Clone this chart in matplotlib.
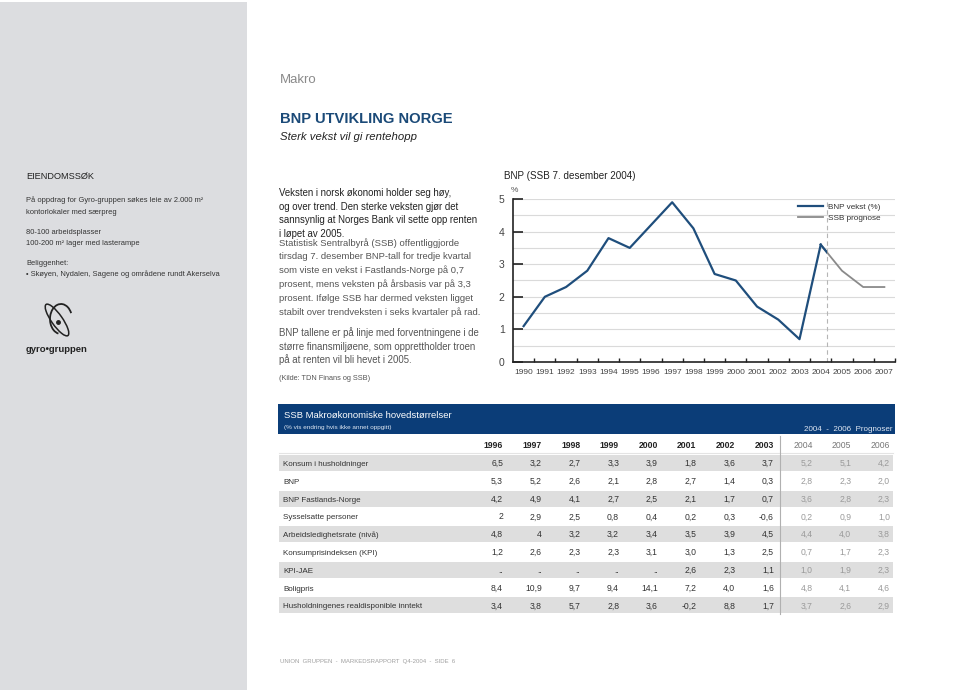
import matplotlib
matplotlib.use("Agg")
import matplotlib.pyplot as plt
from matplotlib.patches import Rectangle, Ellipse, Arc

plt.rcParams['font.family'] = ['Liberation Sans', 'DejaVu Sans']

# --- chart data (BNP, SSB 7. desember 2004) ---
years = [1990, 1991, 1992, 1993, 1994, 1995, 1996, 1997, 1998, 1999,
         2000, 2001, 2002, 2003, 2004]
bnp_vekst = [1.1, 2.0, 2.3, 2.8, 3.8, 3.5, 4.2, 4.9, 4.1, 2.7,
             2.5, 1.7, 1.3, 0.7, 3.6]
prog_years = [2004, 2005, 2006, 2007]
ssb_prognose = [3.6, 2.8, 2.3, 2.3]
prog_start = 2004.3

# --- table data ---
tab_years = ["1996", "1997", "1998", "1999", "2000", "2001", "2002", "2003",
             "2004", "2005", "2006"]
row_labels = ["Konsum i husholdninger", "BNP", "BNP Fastlands-Norge",
              "Sysselsatte personer", "Arbeidsledighetsrate (nivå)",
              "Konsumprisindeksen (KPI)", "KPI-JAE", "Boligpris",
              "Husholdningenes realdisponible inntekt"]
konsum = ["6,5", "3,2", "2,7", "3,3", "3,9", "1,8", "3,6", "3,7", "5,2", "5,1", "4,2"]
bnp = ["5,3", "5,2", "2,6", "2,1", "2,8", "2,7", "1,4", "0,3", "2,8", "2,3", "2,0"]
bnp_fastland = ["4,2", "4,9", "4,1", "2,7", "2,5", "2,1", "1,7", "0,7", "3,6", "2,8", "2,3"]
sysselsatte = ["2", "2,9", "2,5", "0,8", "0,4", "0,2", "0,3", "-0,6", "0,2", "0,9", "1,0"]
ledighet = ["4,8", "4", "3,2", "3,2", "3,4", "3,5", "3,9", "4,5", "4,4", "4,0", "3,8"]
kpi = ["1,2", "2,6", "2,3", "2,3", "3,1", "3,0", "1,3", "2,5", "0,7", "1,7", "2,3"]
kpi_jae = ["..", "..", "..", "..", "..", "2,6", "2,3", "1,1", "1,0", "1,9", "2,3"]
boligpris = ["8,4", "10,9", "9,7", "9,4", "14,1", "7,2", "4,0", "1,6", "4,8", "4,1", "4,6"]
inntekt = ["3,4", "3,8", "5,7", "2,8", "3,6", "-0,2", "8,8", "1,7", "3,7", "2,6", "2,9"]
rows = [konsum, bnp, bnp_fastland, sysselsatte, ledighet, kpi, kpi_jae, boligpris, inntekt]

W, H = 960, 691
fig = plt.figure(figsize=(9.6, 6.91), dpi=100)
fig.patch.set_facecolor('white')

# page canvas in pixel coords (y down)
page = fig.add_axes([0, 0, 1, 1])
page.set_xlim(0, W)
page.set_ylim(H, 0)
page.axis('off')

blue = '#0b3d78'
dark = '#222222'
mid = '#555555'

# left sidebar
page.add_patch(Rectangle((0, 2), 247, 688, color='#dcdde0', lw=0))
page.text(26, 176, "EIENDOMSSØK", fontsize=6.6, color=dark, va='center')
side = [("På oppdrag for Gyro-gruppen søkes leie av 2.000 m²", 200),
        ("kontorlokaler med særpreg", 212),
        ("80-100 arbeidsplasser", 232),
        ("100-200 m² lager med lasterampe", 243),
        ("Beliggenhet:", 263),
        ("• Skøyen, Nydalen, Sagene og områdene rundt Akerselva", 274)]
for s, y in side:
    page.text(26, y, s, fontsize=5.4, color='#333333', va='center')

# gyro logo (rough)
page.add_patch(Ellipse((57, 320), 38, 11, angle=55, fill=False, ec='#222222', lw=1.1))
page.add_patch(Arc((61, 319), 22, 30, angle=0, theta1=100, theta2=330, ec='#222222', lw=1.3))
page.plot([58], [322], 'o', color='#222222', ms=2.5)
page.text(26, 349, "gyro•gruppen", fontsize=6.8, fontweight='bold', color='#222222', va='center')

# headings
page.text(280, 80, "Makro", fontsize=9.5, color='#8a8a8a', va='center')
page.text(280, 119, "BNP UTVIKLING NORGE", fontsize=10.6, fontweight='bold', color='#1b4a78',
          va='center')
page.text(280, 137, "Sterk vekst vil gi rentehopp", fontsize=8.2, style='italic', color=dark,
          va='center')

para1 = ["Veksten i norsk økonomi holder seg høy,",
         "og over trend. Den sterke veksten gjør det",
         "sannsynlig at Norges Bank vil sette opp renten",
         "i løpet av 2005."]
para2 = ["Statistisk Sentralbyrå (SSB) offentliggjorde",
         "tirsdag 7. desember BNP-tall for tredje kvartal",
         "som viste en vekst i Fastlands-Norge på 0,7",
         "prosent, mens veksten på årsbasis var på 3,3",
         "prosent. Ifølge SSB har dermed veksten ligget",
         "stabilt over trendveksten i seks kvartaler på rad."]
para3 = ["BNP tallene er på linje med forventningene i de",
         "større finansmiljøene, som opprettholder troen",
         "på at renten vil bli hevet i 2005."]
for i, s in enumerate(para1):
    page.text(279, 192 + i * 13.5, s, fontsize=6.9, color=dark, va='center_baseline')
for i, s in enumerate(para2):
    page.text(279, 242 + i * 13.8, s, fontsize=6.8, color=mid, va='center_baseline')
for i, s in enumerate(para3):
    page.text(279, 332 + i * 13.5, s, fontsize=6.9, color=mid, va='center_baseline')
page.text(279, 377, "(Kilde: TDN Finans og SSB)", fontsize=5.3, color=mid, va='center_baseline')

# --- table ---
page.add_patch(Rectangle((278, 404), 617, 30, color=blue, lw=0))
page.text(284, 414, "SSB Makroøkonomiske hovedstørrelser", fontsize=6.8, color='white',
          va='center_baseline')
page.text(284, 427, "(% vis endring hvis ikke annet oppgitt)", fontsize=4.6, color='#dde6f2',
          va='center_baseline')
page.text(892, 428, "2004  -  2006  Prognoser", fontsize=5.8, color='#dde6f2',
          va='center_baseline', ha='right')

col_right = [503 + 38.7 * k for k in range(len(tab_years))]
for k, yr in enumerate(tab_years):
    fc = k >= 8
    page.text(col_right[k], 448, yr, fontsize=6.2, ha='right', va='baseline',
              fontweight='normal' if fc else 'bold', color='#777777' if fc else dark)
page.plot([279, 893], [453, 453], color='#e4e4e4', lw=0.8)

for r, (lab, vals) in enumerate(zip(row_labels, rows)):
    y = 463 + r * 17.8
    if r % 2 == 0:
        page.add_patch(Rectangle((279, y - 8), 614, 16, color='#dedede', lw=0))
    page.text(283, y + 3, lab, fontsize=5.8, color='#333333', va='baseline')
    for k, v in enumerate(vals):
        page.text(col_right[k], y + 3, v, fontsize=6.2, ha='right', va='baseline',
                  color='#9a9a9a' if k >= 8 else '#333333')
page.plot([780, 780], [436, 614], color='#b0b0b0', lw=0.8)

page.text(280, 662, "UNION  GRUPPEN  -  MARKEDSRAPPORT  Q4-2004  -  SIDE  6", fontsize=4.3,
          color='#a0a0a0', va='center')

# --- chart ---
left, right, top, bottom = 513, 895, 199, 362
ax = fig.add_axes([left / W, 1 - bottom / H, (right - left) / W, (bottom - top) / H])
ax.set_facecolor('none')
ax.set_xlim(1989.5, 2007.5)
ax.set_ylim(0, 5)
for y in [0.5 * i for i in range(1, 11)]:
    ax.axhline(y, color='#dadada', lw=0.8, zorder=0)
ax.axvline(prog_start, color='#b5b5b5', lw=0.8, dashes=(4, 3), zorder=1)

ax.plot(prog_years, ssb_prognose, color='#8a8a8a', lw=1.3, label='SSB prognose', zorder=2)
ax.plot(years, bnp_vekst, color='#1f4e7c', lw=1.6, label='BNP vekst (%)', zorder=3)
seg, = ax.plot(prog_years[:2], ssb_prognose[:2], color='#1f4e7c', lw=1.6, zorder=3)
clip = Rectangle((1989.5, -1), prog_start - 1989.5, 10, transform=ax.transData)
seg.set_clip_path(clip)

for s in ['top', 'right']:
    ax.spines[s].set_visible(False)
for s in ['left', 'bottom']:
    ax.spines[s].set_color('#222222')
    ax.spines[s].set_linewidth(1.2)

ax.set_yticks(range(6))
ax.tick_params(axis='y', direction='in', length=7, width=1.2, color='#222222',
               labelsize=7.5, labelcolor='#444444', pad=6)
ax.set_xticks(years + prog_years[1:])
ax.set_xticks([y + 0.5 for y in years + prog_years[1:]], minor=True)
ax.tick_params(axis='x', which='major', length=0, labelsize=6.0, labelcolor='#444444', pad=5)
ax.tick_params(axis='x', which='minor', direction='in', length=3, width=1, color='#222222')

handles, labels = ax.get_legend_handles_labels()
ax.legend(handles[::-1], labels[::-1], loc='upper left', bbox_to_anchor=(798 / W, 1 - 203 / H),
          bbox_transform=fig.transFigure, frameon=False, fontsize=5.9, handlelength=3.1,
          handletextpad=0.5, labelspacing=0.45, borderpad=0, borderaxespad=0,
          labelcolor='#333333')

page.text(504, 176, "BNP (SSB 7. desember 2004)", fontsize=7.1, color=dark, va='center')
page.text(511, 190, "%", fontsize=6, color='#555555', va='center')

fig.savefig("out.png", dpi=100)
